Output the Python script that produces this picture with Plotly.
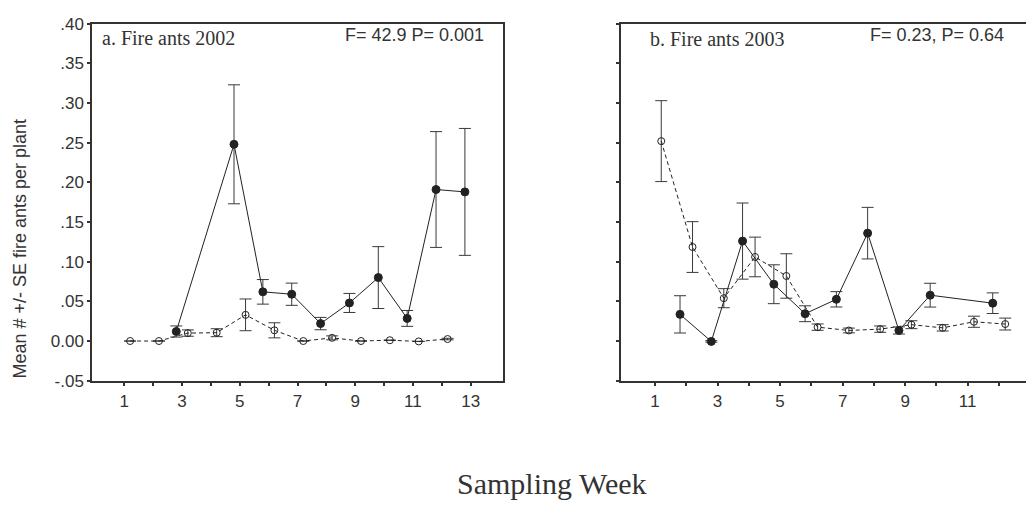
import plotly.graph_objects as go

# ---------------- data ----------------
# Panel a: Fire ants 2002
a_open_weeks = [1, 2, 3, 4, 5, 6, 7, 8, 9, 10, 11, 12]
a_open_mean = [0.0, 0.0, 0.010, 0.0105, 0.033, 0.0135, 0.0, 0.004, 0.0, 0.001, -0.0005, 0.0025]
a_open_se = [0.0, 0.0, 0.004, 0.005, 0.020, 0.0095, 0.0, 0.0025, 0.0, 0.0, 0.0, 0.001]

a_fill_weeks = [3, 5, 6, 7, 8, 9, 10, 11, 12, 13]
a_fill_mean = [0.012, 0.248, 0.062, 0.059, 0.022, 0.048, 0.080, 0.0285, 0.191, 0.188]
a_fill_se = [0.007, 0.075, 0.0155, 0.014, 0.0078, 0.012, 0.039, 0.010, 0.073, 0.080]

# Panel b: Fire ants 2003
b_open_weeks = [1, 2, 3, 4, 5, 6, 7, 8, 9, 10, 11, 12]
b_open_mean = [0.252, 0.1185, 0.054, 0.106, 0.082, 0.0175, 0.0133, 0.015, 0.0206, 0.0166, 0.0243, 0.0214]
b_open_se = [0.051, 0.032, 0.012, 0.025, 0.028, 0.004, 0.003, 0.004, 0.005, 0.004, 0.007, 0.0075]

b_fill_weeks = [2, 3, 4, 5, 6, 7, 8, 9, 10, 12]
b_fill_mean = [0.0336, -0.0005, 0.126, 0.0716, 0.0344, 0.0526, 0.136, 0.0133, 0.0578, 0.0477]
b_fill_se = [0.0235, 0.001, 0.048, 0.0245, 0.010, 0.0097, 0.0325, 0.0045, 0.015, 0.013]

y_tick_vals = [-0.05, 0.0, 0.05, 0.10, 0.15, 0.20, 0.25, 0.30, 0.35, 0.40]
y_tick_text = ["-.05", "0.00", ".05", ".10", ".15", ".20", ".25", ".30", ".35", ".40"]

a_x_ticks = list(range(1, 14))
b_x_ticks = list(range(1, 13))

panel_titles = ["a. Fire ants 2002", "b. Fire ants 2003"]
panel_stats = ["F= 42.9 P= 0.001", "F= 0.23, P= 0.64"]
y_title = "Mean # +/- SE fire ants per plant"
x_title = "Sampling Week"

# ---------------- styling ----------------
INK = "#222222"
AXIS = "#333333"
OFFSET = 0.2
SANS = "Liberation Sans, Arial, sans-serif"
SERIF = "Liberation Serif, Times New Roman, serif"
PAGE = 8  # default page body margin that offsets the figure in the window

fig = go.Figure()


def add_series(weeks, mean, se, filled, xa, ya):
    xs = [w + (-OFFSET if filled else OFFSET) for w in weeks]
    fig.add_trace(go.Scatter(
        x=xs, y=mean, xaxis=xa, yaxis=ya, mode="lines+markers",
        line=dict(color=INK, width=1, dash="solid" if filled else "4px,3px"),
        marker=dict(symbol="circle" if filled else "circle-open", size=8 if filled else 7,
                    color=INK, line=dict(color=INK, width=1)),
        error_y=dict(type="data", array=se, visible=True, color="#3a3a3a",
                     thickness=1, width=6),
        showlegend=False, hoverinfo="skip",
    ))


add_series(a_open_weeks, a_open_mean, a_open_se, False, "x", "y")
add_series(a_fill_weeks, a_fill_mean, a_fill_se, True, "x", "y")
add_series(b_open_weeks, b_open_mean, b_open_se, False, "x2", "y2")
add_series(b_fill_weeks, b_fill_mean, b_fill_se, True, "x2", "y2")

W, H = 1034, 512


def px_x(v):
    return (v - PAGE) / W


def px_y(v):
    return 1 - (v - PAGE) / H


y_dom = [px_y(385.7), px_y(15)]
xa_dom = [px_x(92), px_x(503)]
xb_dom = [px_x(620.7), px_x(1040)]

tickfont = dict(family=SANS, size=17, color="#333333")

common_x = dict(showgrid=False, zeroline=False, showline=True, linecolor=AXIS, linewidth=1.5,
                ticks="outside", ticklen=4, tickwidth=2, tickcolor=AXIS, tickfont=tickfont,
                tickmode="array", ticklabeloverflow="allow")
common_y = dict(showgrid=False, zeroline=False, showline=True, linecolor=AXIS, linewidth=1.5,
                ticks="outside", ticklen=3, tickwidth=2, tickcolor=AXIS, tickfont=tickfont,
                tickmode="array", tickvals=y_tick_vals, ticktext=y_tick_text,
                range=[-0.05, 0.40], ticklabeloverflow="allow")

fig.update_layout(
    width=W, height=H, margin=dict(l=0, r=0, t=0, b=0),
    paper_bgcolor="white", plot_bgcolor="white",
    xaxis=dict(common_x, domain=xa_dom, range=[-0.12, 14.12], anchor="y", mirror=True,
               tickvals=a_x_ticks, ticktext=[str(v) if v % 2 else "" for v in a_x_ticks]),
    yaxis=dict(common_y, domain=y_dom, anchor="x", mirror=True),
    xaxis2=dict(common_x, domain=xb_dom, range=[-0.097, -0.097 + (1040 - 620.7) / 31.27],
                anchor="y2", mirror=True,
                tickvals=b_x_ticks, ticktext=[str(v) if v % 2 else "" for v in b_x_ticks]),
    yaxis2=dict(common_y, domain=y_dom, anchor="x2", mirror=False, showticklabels=False),
)

ann = []
ann.append(dict(text=panel_titles[0], xref="paper", yref="paper", x=px_x(100), y=px_y(30),
                xanchor="left", yanchor="middle", showarrow=False,
                font=dict(family=SERIF, size=20, color="#333333")))
ann.append(dict(text=panel_stats[0], xref="paper", yref="paper", x=px_x(486), y=px_y(26.7),
                xanchor="right", yanchor="middle", showarrow=False,
                font=dict(family=SANS, size=18, color="#333333")))
ann.append(dict(text=panel_titles[1], xref="paper", yref="paper", x=px_x(648.3), y=px_y(31),
                xanchor="left", yanchor="middle", showarrow=False,
                font=dict(family=SERIF, size=20, color="#333333")))
ann.append(dict(text=panel_stats[1], xref="paper", yref="paper", x=px_x(1005.7), y=px_y(26.7),
                xanchor="right", yanchor="middle", showarrow=False,
                font=dict(family=SANS, size=18, color="#333333")))
ann.append(dict(text=y_title, xref="paper", yref="paper", x=px_x(20), y=px_y(248.5),
                xanchor="center", yanchor="middle", textangle=-90, showarrow=False,
                font=dict(family=SANS, size=18, color="#333333")))
ann.append(dict(text=x_title, xref="paper", yref="paper", x=px_x(551.5), y=px_y(492),
                xanchor="center", yanchor="middle", showarrow=False,
                font=dict(family=SERIF, size=30, color="#333333")))
fig.update_layout(annotations=ann)

fig.write_html("out.html")
